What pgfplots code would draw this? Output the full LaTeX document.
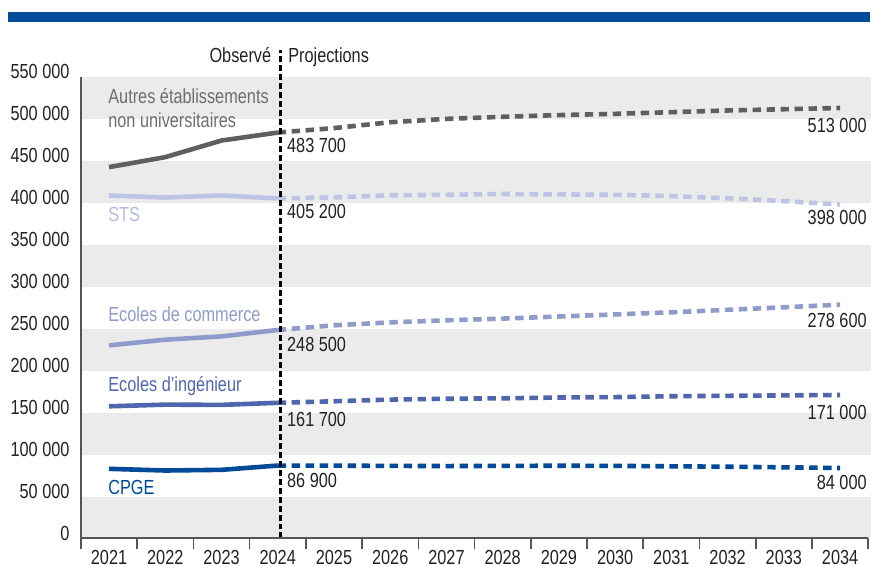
\documentclass[border=0pt]{standalone}
\usepackage{fontspec}
\setmainfont{Liberation Sans}[FakeStretch=0.80]
\usepackage{pgfplots}
\pgfplotsset{compat=1.18}
\definecolor{topblue}{HTML}{004C99}
\definecolor{cAutres}{HTML}{5F5F5F}
\definecolor{tAutres}{HTML}{6E6E6E}
\definecolor{cSTS}{HTML}{BEC4E4}
\definecolor{tSTS}{HTML}{B4BBDF}
\definecolor{cCom}{HTML}{8F9BCB}
\definecolor{cIng}{HTML}{5066AC}
\definecolor{cCPGE}{HTML}{004A97}
\definecolor{band}{HTML}{EBEBEB}
\definecolor{axisgray}{HTML}{555555}
\definecolor{labelc}{HTML}{222222}
\begin{document}
\fontsize{10.2pt}{12pt}\selectfont
\begin{tikzpicture}
\path (0,0) rectangle (435.5pt,283pt);
\fill[topblue] (4pt,272pt) rectangle (435.5pt,277pt);
\begin{axis}[
  at={(40.5pt,13.5pt)}, anchor=south west,
  scale only axis, width=394pt, height=231pt,
  xmin=2020.5, xmax=2034.5, ymin=0, ymax=550000,
  axis x line*=bottom, axis y line*=left,
  axis line style={draw=axisgray, line width=1pt},
  axis on top,
  clip=false,
  scaled y ticks=false,
  xtick={2021,2022,2023,2024,2025,2026,2027,2028,2029,2030,2031,2032,2033,2034},
  xticklabels={2021,2022,2023,2024,2025,2026,2027,2028,2029,2030,2031,2032,2033,2034},
  minor xtick={2020.5,2021.5,2022.5,2023.5,2024.5,2025.5,2026.5,2027.5,2028.5,2029.5,2030.5,2031.5,2032.5,2033.5,2034.5},
  tick align=outside,
  major tick length=0pt,
  minor tick length=5.5pt,
  minor tick style={draw=axisgray, line width=0.8pt},
  xticklabel style={anchor=north, inner sep=0pt, yshift=-5.5pt, text=labelc},
  ytick={0,50000,100000,150000,200000,250000,300000,350000,400000,450000,500000,550000},
  yticklabels={{0},{50 000},{100 000},{150 000},{200 000},{250 000},{300 000},{350 000},{400 000},{450 000},{500 000},{550 000}},
  yticklabel style={anchor=east, inner sep=0pt, xshift=-5.5pt, yshift=2.6pt, text=labelc},
  no markers,
]
% background bands
\fill[band] (axis cs:2020.5,500000) rectangle (axis cs:2034.55,550000);
\fill[band] (axis cs:2020.5,400000) rectangle (axis cs:2034.55,450000);
\fill[band] (axis cs:2020.5,300000) rectangle (axis cs:2034.55,350000);
\fill[band] (axis cs:2020.5,200000) rectangle (axis cs:2034.55,250000);
\fill[band] (axis cs:2020.5,100000) rectangle (axis cs:2034.55,150000);
\fill[band] (axis cs:2020.5,0) rectangle (axis cs:2034.55,50000);

% Autres
\addplot[cAutres, line width=2.3pt] coordinates {(2021,442500)(2022,454400)(2023,474200)(2024,483700)};
\addplot[cAutres, line width=2.3pt, dash pattern=on 4.2pt off 2.8pt] coordinates {(2024,483700)(2025,489000)(2026,496000)(2027,500000)(2028,502500)(2029,504500)(2030,506000)(2031,508000)(2032,510000)(2033,511500)(2034,513000)};
% STS
\addplot[cSTS, line width=2.3pt] coordinates {(2021,408700)(2022,406300)(2023,408700)(2024,405200)};
\addplot[cSTS, line width=2.3pt, dash pattern=on 4.2pt off 2.8pt] coordinates {(2024,405200)(2025,406500)(2026,409000)(2027,409500)(2028,410500)(2029,410000)(2030,409500)(2031,408000)(2032,405500)(2033,402000)(2034,398000)};
% Commerce
\addplot[cCom, line width=2.3pt] coordinates {(2021,230100)(2022,236900)(2023,240800)(2024,248500)};
\addplot[cCom, line width=2.3pt, dash pattern=on 4.2pt off 2.8pt] coordinates {(2024,248500)(2025,254000)(2026,257500)(2027,260000)(2028,262000)(2029,264500)(2030,267000)(2031,269500)(2032,272500)(2033,275500)(2034,278600)};
% Ingenieur
\addplot[cIng, line width=2.3pt] coordinates {(2021,157500)(2022,159500)(2023,159200)(2024,161700)};
\addplot[cIng, line width=2.3pt, dash pattern=on 4.2pt off 2.8pt] coordinates {(2024,161700)(2025,163500)(2026,165500)(2027,166500)(2028,167000)(2029,168000)(2030,168500)(2031,169500)(2032,170000)(2033,170500)(2034,171000)};
% CPGE
\addplot[cCPGE, line width=2.3pt] coordinates {(2021,83000)(2022,81000)(2023,81800)(2024,86900)};
\addplot[cCPGE, line width=2.3pt, dash pattern=on 4.2pt off 2.8pt] coordinates {(2024,86900)(2025,86800)(2026,86500)(2027,86300)(2028,86500)(2029,86700)(2030,86500)(2031,86000)(2032,85500)(2033,84800)(2034,84000)};

% vertical separator
\draw[black, line width=1.1pt, dash pattern=on 3pt off 1.5pt] (axis cs:2024.05,0) -- (axis cs:2024.05,582000);
\node[anchor=base east, inner sep=0pt, text=labelc] at (axis cs:2023.89,566700) {Observé};
\node[anchor=base west, inner sep=0pt, text=labelc] at (axis cs:2024.18,566700) {Projections};

% series labels
\node[anchor=base west, inner sep=0pt, text=tAutres] at (axis cs:2020.98,517900) {Autres établissements};
\node[anchor=base west, inner sep=0pt, text=tAutres] at (axis cs:2020.98,489300) {non universitaires};
\node[anchor=base west, inner sep=0pt, text=tSTS] at (axis cs:2020.98,377400) {STS};
\node[anchor=base west, inner sep=0pt, text=cCom] at (axis cs:2020.98,258000) {Ecoles de commerce};
\node[anchor=base west, inner sep=0pt, text=cIng] at (axis cs:2020.98,175000) {Ecoles d’ingénieur};
\node[anchor=base west, inner sep=0pt, text=cCPGE] at (axis cs:2020.98,52400) {CPGE};

% value labels at 2024
\node[anchor=base west, inner sep=0pt, text=labelc] at (axis cs:2024.16,459900) {483 700};
\node[anchor=base west, inner sep=0pt, text=labelc] at (axis cs:2024.16,381000) {405 200};
\node[anchor=base west, inner sep=0pt, text=labelc] at (axis cs:2024.16,223000) {248 500};
\node[anchor=base west, inner sep=0pt, text=labelc] at (axis cs:2024.16,133700) {161 700};
\node[anchor=base west, inner sep=0pt, text=labelc] at (axis cs:2024.16,60400) {86 900};

% value labels at 2034
\node[anchor=base east, inner sep=0pt, text=labelc] at (axis cs:2034.48,484200) {513 000};
\node[anchor=base east, inner sep=0pt, text=labelc] at (axis cs:2034.48,373800) {398 000};
\node[anchor=base east, inner sep=0pt, text=labelc] at (axis cs:2034.48,252000) {278 600};
\node[anchor=base east, inner sep=0pt, text=labelc] at (axis cs:2034.48,141700) {171 000};
\node[anchor=base east, inner sep=0pt, text=labelc] at (axis cs:2034.48,58300) {84 000};
\end{axis}
\end{tikzpicture}
\end{document}
